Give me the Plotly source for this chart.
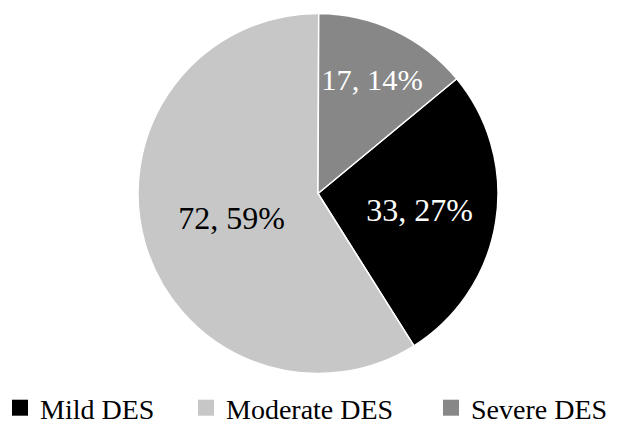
import plotly.graph_objects as go

labels = ["Mild DES", "Moderate DES", "Severe DES"]
values = [33, 72, 17]
colors = ["#000000", "#c7c7c7", "#878787"]
text_colors = ["#ffffff", "#000000", "#ffffff"]

total = sum(values)
texts = [f"{v}, {round(v / total * 100)}%" for v in values]

FONT = "Liberation Serif, Times New Roman, serif"

# plot area height left after the legends reserve space at the bottom
P = 381.0

fig = go.Figure()
fig.add_trace(go.Pie(
    labels=labels,
    values=values,
    text=texts,
    textinfo="text",
    textposition="inside",
    insidetextorientation="horizontal",
    insidetextfont=dict(family=FONT, size=32, color=text_colors),
    marker=dict(colors=colors, line=dict(color="#ffffff", width=1.5)),
    sort=False,
    direction="clockwise",
    rotation=50.4,
    domain=dict(x=[138 / 625, 498 / 625], y=[(P - 372) / P, 1 - 13 / P]),
    hoverinfo="none",
    showlegend=False,
))

# legend entries (one legend per item so spacing can follow the reference)
legend_ids = ["legend", "legend2", "legend3"]
legend_x = [0 / 625, 186 / 625, 431 / 625]
for lab, col, lid in zip(labels, colors, legend_ids):
    fig.add_trace(go.Scatter(
        x=[None], y=[None], mode="markers", name=lab,
        marker=dict(symbol="square", size=16, color=col),
        legend=lid, showlegend=True, hoverinfo="skip",
    ))

legend_common = dict(
    orientation="h",
    xref="container", yref="container",
    yanchor="middle", y=1 - 408 / 425,
    xanchor="left",
    font=dict(family=FONT, size=28, color="#000000"),
    itemsizing="trace",
    bgcolor="rgba(0,0,0,0)",
    borderwidth=0,
)

fig.update_layout(
    width=625, height=425,
    margin=dict(l=0, r=0, t=0, b=0),
    paper_bgcolor="#ffffff",
    plot_bgcolor="rgba(0,0,0,0)",
    font=dict(family=FONT, size=24, color="#000000"),
    xaxis=dict(visible=False, domain=[0, 0.01]),
    yaxis=dict(visible=False, domain=[0, 0.01]),
    legend=dict(x=legend_x[0], **legend_common),
    legend2=dict(x=legend_x[1], **legend_common),
    legend3=dict(x=legend_x[2], **legend_common),
)

fig.write_html("out.html")
